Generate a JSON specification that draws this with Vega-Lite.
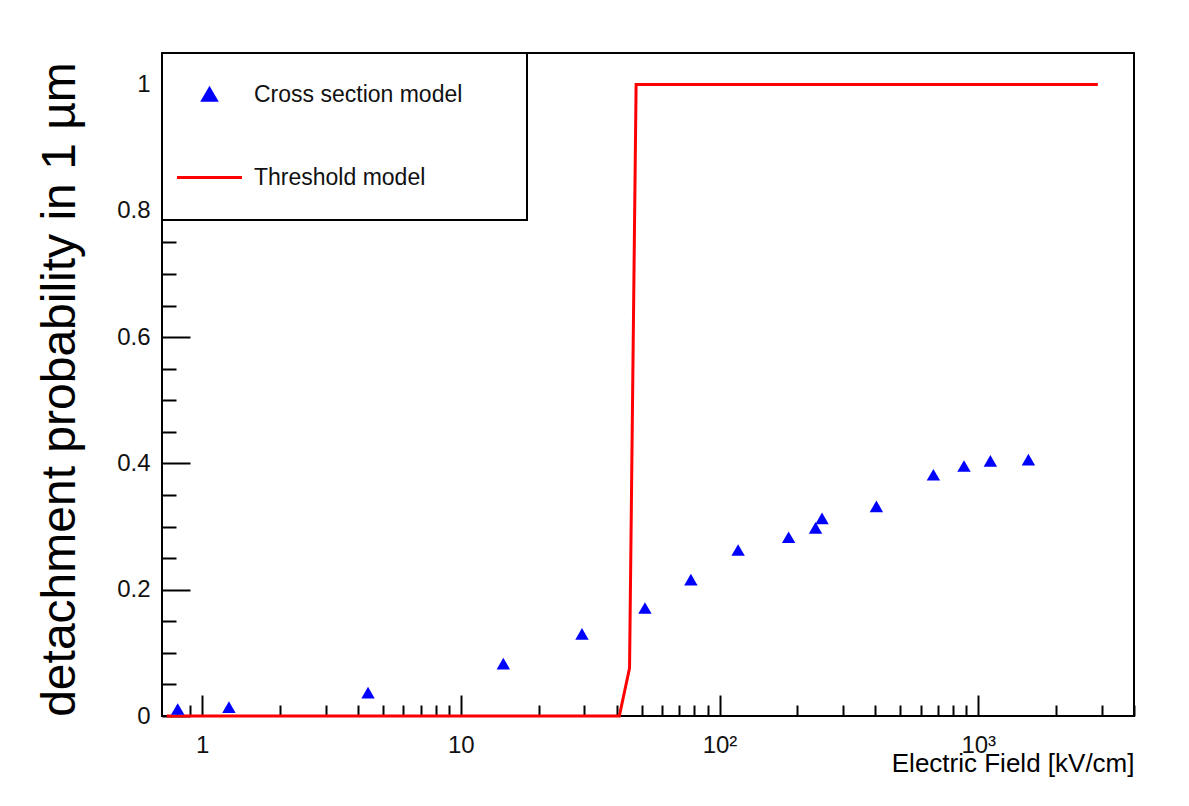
{
  "$schema": "https://vega.github.io/schema/vega-lite/v6.json",
  "autosize": {"type": "none"},
  "width": 972,
  "height": 663,
  "padding": {"left": 162, "top": 53, "right": 55, "bottom": 90},
  "background": "#ffffff",
  "config": {
    "view": {"stroke": "#000000", "strokeWidth": 2, "fill": "#ffffff"},
    "axis": {
      "domain": false,
      "grid": false,
      "tickColor": "#000000",
      "tickWidth": 2,
      "labelFont": "Liberation Sans",
      "labelFontSize": 24,
      "labelColor": "#111111",
      "titleFont": "Liberation Sans",
      "titleColor": "#000000",
      "titleFontWeight": "normal"
    }
  },
  "data": {
    "values": [
      {"series": "Cross section model", "field": 0.805, "prob": 0.011},
      {"series": "Cross section model", "field": 1.27, "prob": 0.014},
      {"series": "Cross section model", "field": 4.38, "prob": 0.037},
      {"series": "Cross section model", "field": 14.6, "prob": 0.083},
      {"series": "Cross section model", "field": 29.4, "prob": 0.130},
      {"series": "Cross section model", "field": 51.5, "prob": 0.171},
      {"series": "Cross section model", "field": 77.5, "prob": 0.216},
      {"series": "Cross section model", "field": 118, "prob": 0.263},
      {"series": "Cross section model", "field": 185, "prob": 0.283},
      {"series": "Cross section model", "field": 235, "prob": 0.298},
      {"series": "Cross section model", "field": 249, "prob": 0.313},
      {"series": "Cross section model", "field": 404, "prob": 0.332},
      {"series": "Cross section model", "field": 671, "prob": 0.382},
      {"series": "Cross section model", "field": 881, "prob": 0.396},
      {"series": "Cross section model", "field": 1114, "prob": 0.404},
      {"series": "Cross section model", "field": 1563, "prob": 0.406},
      {"series": "Threshold model", "field": 0.73, "prob": 0},
      {"series": "Threshold model", "field": 41, "prob": 0},
      {"series": "Threshold model", "field": 44.9, "prob": 0.076},
      {"series": "Threshold model", "field": 47.6, "prob": 1},
      {"series": "Threshold model", "field": 2900, "prob": 1}
    ]
  },
  "layer": [
    {
      "transform": [{"filter": "datum.series === 'Threshold model'"}],
      "mark": {"type": "line", "strokeWidth": 3},
      "encoding": {
        "x": {
          "field": "field", "type": "quantitative",
          "scale": {"type": "log", "domain": [0.7, 4000], "nice": false},
          "axis": {
            "orient": "bottom",
            "values": [0.8, 0.9, 2, 3, 4, 5, 6, 7, 8, 9, 20, 30, 40, 50, 60, 70, 80, 90, 200, 300, 400, 500, 600, 700, 800, 900, 2000, 3000, 4000],
            "labels": false,
            "tickSize": -11,
            "title": null
          }
        },
        "y": {
          "field": "prob", "type": "quantitative",
          "scale": {"domain": [0, 1.05], "nice": false, "zero": false},
          "axis": {
            "orient": "left",
            "values": [0.05, 0.1, 0.15, 0.25, 0.3, 0.35, 0.45, 0.5, 0.55, 0.65, 0.7, 0.75, 0.85, 0.9, 0.95],
            "labels": false,
            "tickSize": -14,
            "title": null
          }
        },
        "color": {
          "field": "series", "type": "nominal",
          "scale": {"domain": ["Cross section model", "Threshold model"], "range": ["#0000ff", "#ff0000"]},
          "legend": {
            "orient": "top-left",
            "offset": 0,
            "title": "\u00a0",
            "titleOrient": "right",
            "titleFontSize": 23,
            "titlePadding": 35,
            "padding": 30,
            "strokeColor": "#000000",
            "fillColor": "#ffffff",
            "labelFont": "Liberation Sans",
            "labelFontSize": 23,
            "labelColor": "#111111",
            "labelOffset": 33,
            "labelLimit": 1000,
            "symbolOffset": 6,
            "rowPadding": 59,
            "encode": {
              "legend": {"update": {"strokeWidth": {"value": 2}}},
              "symbols": {
                "update": {
                  "shape": {"signal": "datum.value === 'Threshold model' ? 'stroke' : 'triangle-up'"},
                  "size": {"signal": "datum.value === 'Threshold model' ? 4225 : 180"},
                  "fill": {"signal": "datum.value === 'Threshold model' ? 'transparent' : '#0000ff'"},
                  "stroke": {"signal": "datum.value === 'Threshold model' ? '#ff0000' : 'transparent'"},
                  "strokeWidth": {"value": 3},
                  "opacity": {"value": 1}
                }
              }
            }
          }
        }
      }
    },
    {
      "transform": [{"filter": "datum.series === 'Cross section model'"}],
      "mark": {"type": "point", "shape": "triangle-up", "filled": true, "size": 180, "opacity": 1},
      "encoding": {
        "x": {
          "field": "field", "type": "quantitative",
          "axis": {
            "orient": "bottom",
            "values": [1, 10, 100, 1000],
            "tickSize": -21,
            "labelPadding": 38,
            "labelExpr": "datum.value == 100 ? '10²' : datum.value == 1000 ? '10³' : datum.label",
            "title": "Electric Field [kV/cm]",
            "titleFontSize": 26,
            "titleAnchor": "end",
            "titleAlign": "right",
            "titleBaseline": "alphabetic",
            "titleX": 972,
            "titleY": 55
          }
        },
        "y": {
          "field": "prob", "type": "quantitative",
          "axis": {
            "orient": "left",
            "values": [0, 0.2, 0.4, 0.6, 0.8, 1],
            "format": "~g",
            "tickSize": -28,
            "labelPadding": 40,
            "title": "detachment probability in 1 µm",
            "titleFontSize": 48,
            "titleAngle": -90,
            "titleAlign": "center",
            "titleBaseline": "alphabetic",
            "titleX": -88,
            "titleY": 336
          }
        },
        "color": {"field": "series", "type": "nominal"}
      }
    }
  ],
  "resolve": {"axis": {"x": "independent", "y": "independent"}}
}
